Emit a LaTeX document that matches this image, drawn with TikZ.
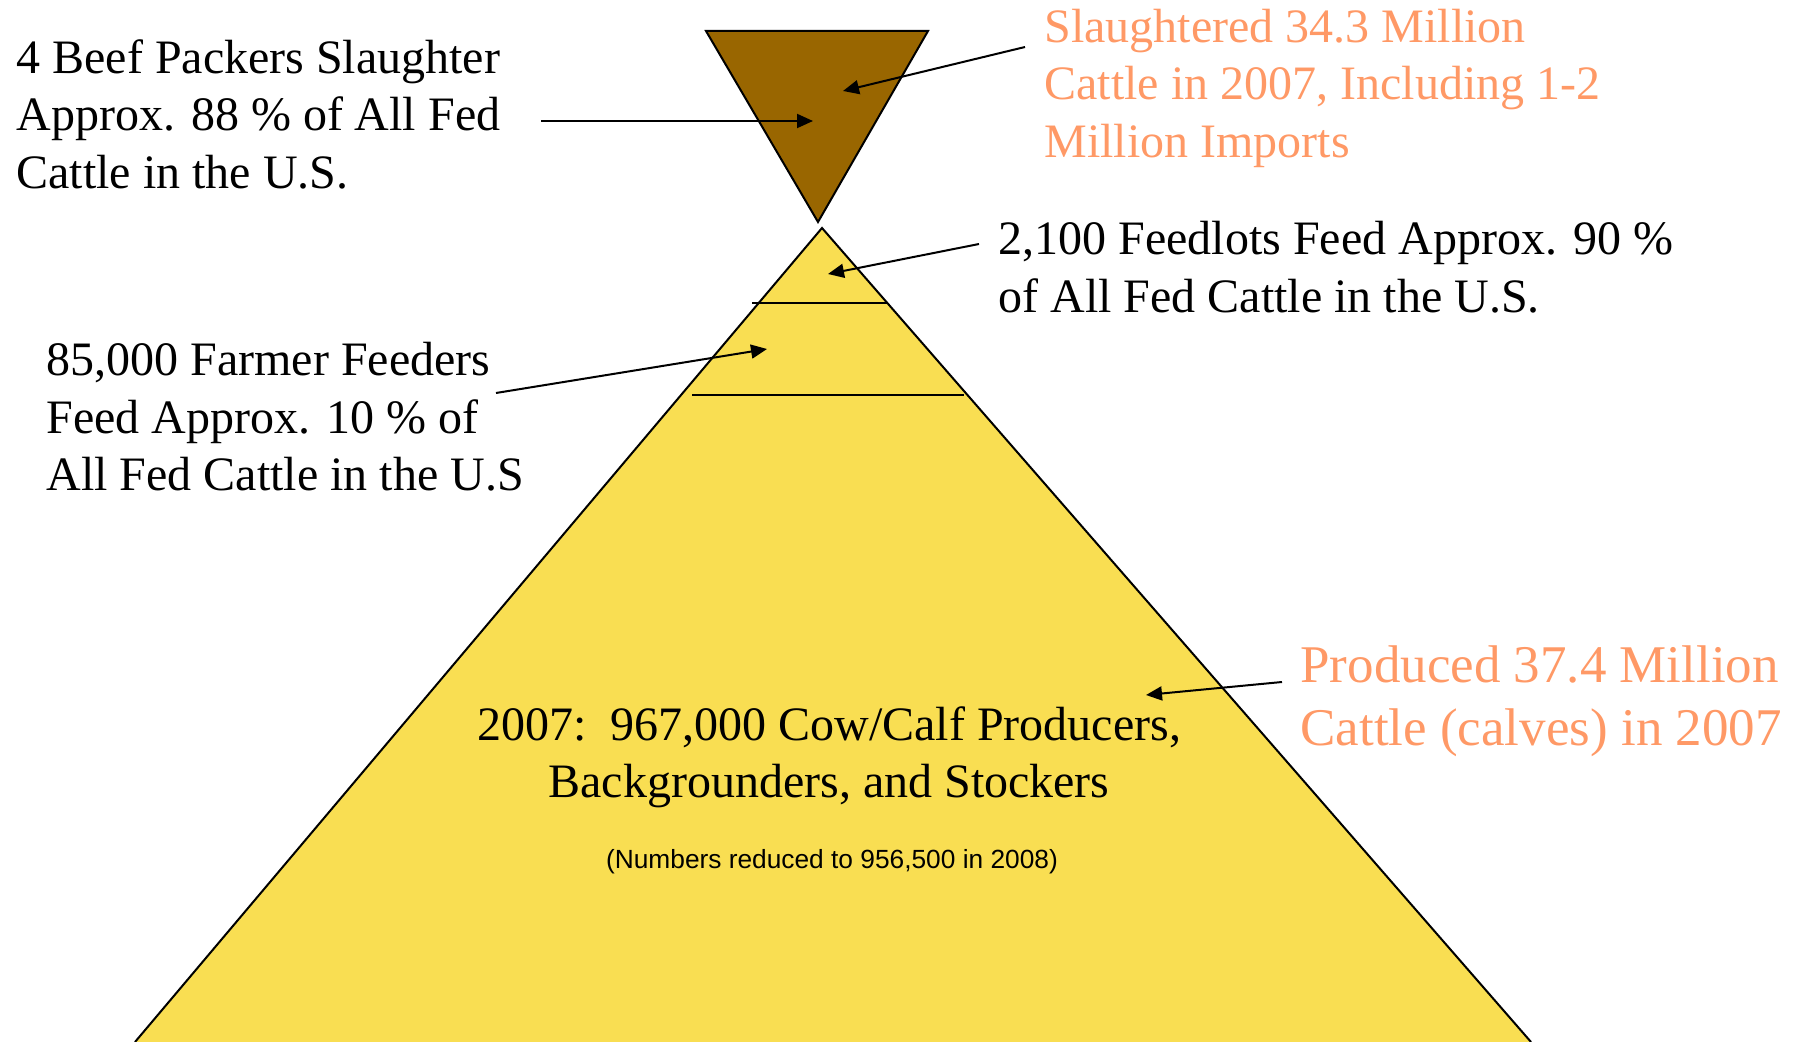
\documentclass[tikz,border=0pt]{standalone}
\usepackage{fontspec}
\setmainfont{Liberation Serif}
\newfontfamily\arialfont{Liberation Sans}
\usetikzlibrary{arrows.meta}

\definecolor{packerbrown}{RGB}{153,102,0}
\definecolor{calfyellow}{RGB}{249,222,82}
\definecolor{salmon}{RGB}{255,153,102}

% multi-line text blocks whose baseline is the first line's baseline
\newcommand\leftlines[1]{\begin{tabular}[t]{@{}l@{}}#1\end{tabular}}
\newcommand\midlines[1]{\begin{tabular}[t]{@{}c@{}}#1\end{tabular}}

\begin{document}
\begin{tikzpicture}[x=0.5pt,y=-0.5pt,
  note/.style={inner sep=0pt, anchor=base west, font=\fontsize{24}{28.75}\selectfont},
  ptr/.style={line width=1pt, -{Triangle[length=8pt,width=7pt]}},
  outline/.style={line width=1pt, line join=miter},
  divider/.style={line width=1pt}]

\useasboundingbox (0,0) rectangle (1803,1042);

% producer pyramid
\fill[calfyellow] (822,228) -- (1531,1042) -- (135,1042) -- cycle;
\draw[outline] (135,1042) -- (822,228) -- (1531,1042);
\draw[divider] (752,303) -- (887,303);
\draw[divider] (692,395) -- (964,395);

% packer funnel
\draw[outline, fill=packerbrown] (706,31) -- (928,31) -- (818,222) -- cycle;

% labels
\node[note] (packers) at (16,73.5)
  {\leftlines{4 Beef Packers Slaughter\\Approx. 88 \% of All Fed\\Cattle in the U.S.}};
\node[note, text=salmon] (slaughtered) at (1044,42.5)
  {\leftlines{Slaughtered 34.3 Million\\Cattle in 2007, Including 1-2\\Million Imports}};
\node[note] (feedlots) at (998,255)
  {\leftlines{2,100 Feedlots Feed Approx. 90 \%\\of All Fed Cattle in the U.S.}};
\node[note] (farmers) at (46,376)
  {\leftlines{85,000 Farmer Feeders\\Feed Approx. 10 \% of\\All Fed Cattle in the U.S}};
\node[note, anchor=base] (cowcalf) at (829,740)
  {\midlines{2007:\ \ 967,000 Cow/Calf Producers,\\Backgrounders, and Stockers}};
\node[inner sep=0pt, anchor=base, font=\arialfont\fontsize{13.15}{15}\selectfont] (numbers) at (832,868)
  {(Numbers reduced to 956,500 in 2008)};
\node[note, text=salmon, font=\fontsize{26.5}{31.5}\selectfont] (produced) at (1300,682)
  {\leftlines{Produced 37.4 Million\\Cattle (calves) in 2007}};

% pointer ends
\coordinate (packersTail) at (541,121);
\coordinate (packersTip) at (813,121);
\coordinate (slaughterTail) at (1025,47);
\coordinate (slaughterTip) at (843,91);
\coordinate (feedlotTail) at (979,244);
\coordinate (feedlotTip) at (828,274);
\coordinate (farmerTail) at (496,393);
\coordinate (farmerTip) at (767,349);
\coordinate (producedTail) at (1282,682);
\coordinate (producedTip) at (1146,695);

% pointers
\draw[ptr] (packersTail) -- (packersTip);
\draw[ptr] (slaughterTail) -- (slaughterTip);
\draw[ptr] (feedlotTail) -- (feedlotTip);
\draw[ptr] (farmerTail) -- (farmerTip);
\draw[ptr] (producedTail) -- (producedTip);

\end{tikzpicture}
\end{document}
